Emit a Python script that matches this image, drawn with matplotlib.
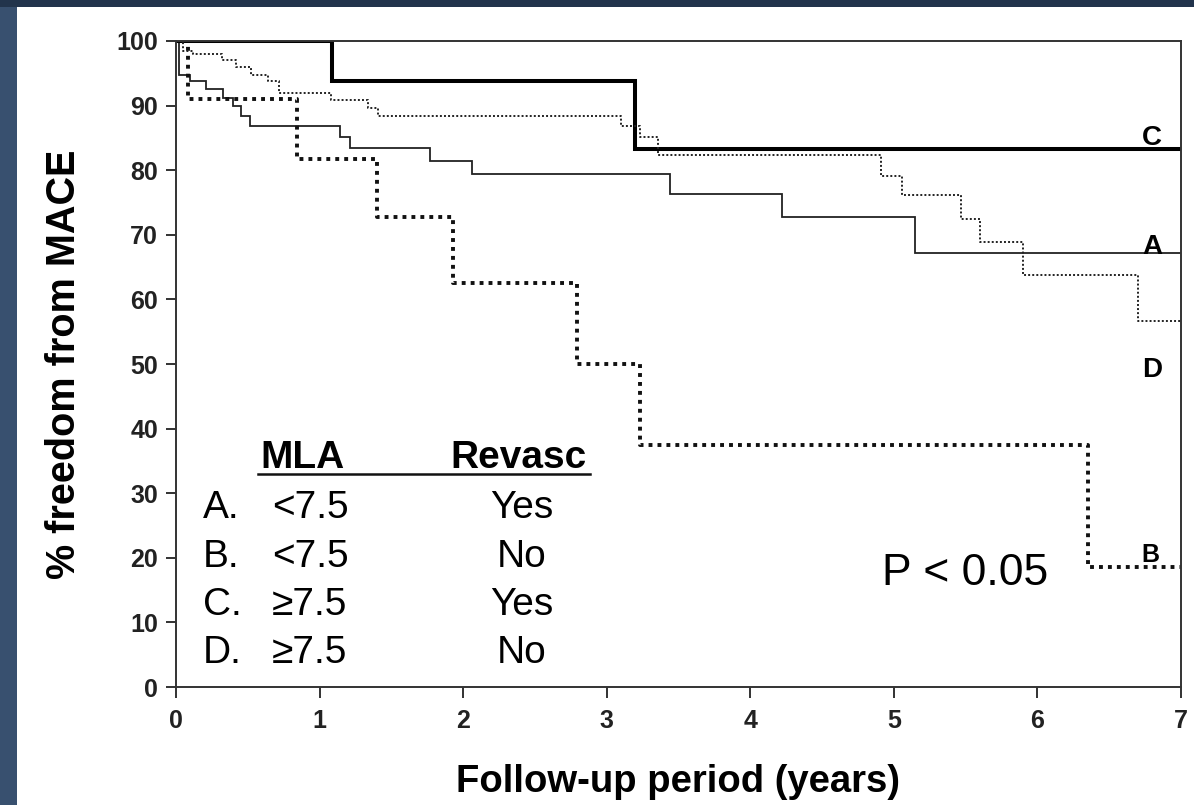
import matplotlib
matplotlib.use("Agg")
import matplotlib.pyplot as plt
from matplotlib.patches import Rectangle
from matplotlib.lines import Line2D

plt.rcParams['font.family'] = ['Liberation Sans', 'DejaVu Sans']

# ---- data (Kaplan-Meier step curves: time of change, value after change) ----
A_t = [0, 0.02, 0.10, 0.21, 0.33, 0.40, 0.45, 0.515, 1.14, 1.21, 1.77, 2.06, 3.44, 4.22, 5.15, 7.0]
A_s = [100, 94.7, 93.8, 92.5, 91.2, 89.9, 88.4, 86.8, 85.2, 83.5, 81.4, 79.4, 76.3, 72.8, 67.2, 67.2]

B_t = [0, 0.085, 0.84, 1.40, 1.93, 2.79, 3.23, 6.35, 7.0]
B_s = [100, 91.0, 81.7, 72.8, 62.5, 50.0, 37.4, 18.5, 18.5]

C_t = [0, 1.09, 3.20, 7.0]
C_s = [100, 93.8, 83.3, 83.3]

D_t = [0, 0.05, 0.12, 0.32, 0.42, 0.52, 0.64, 0.72, 1.08, 1.34, 1.41, 3.10, 3.23, 3.36,
       4.91, 5.06, 5.47, 5.60, 5.90, 6.70, 7.0]
D_s = [100, 98.5, 98.0, 97.0, 96.0, 94.8, 93.8, 91.9, 90.9, 89.6, 88.4, 86.8, 85.2, 82.3,
       79.1, 76.1, 72.4, 68.9, 63.7, 56.6, 56.6]

groups = ['A', 'B', 'C', 'D']
mla = ['<7.5', '<7.5', '\u22657.5', '\u22657.5']
revasc = ['Yes', 'No', 'Yes', 'No']
x_ticks = [0, 1, 2, 3, 4, 5, 6, 7]
y_ticks = [0, 10, 20, 30, 40, 50, 60, 70, 80, 90, 100]
x_label = 'Follow-up period (years)'
y_label = '% freedom from MACE'
p_text = 'P < 0.05'

W, H = 1194, 805
fig = plt.figure(figsize=(W / 100, H / 100), dpi=100)
fig.patch.set_facecolor('white')

# dark frame (top and left)
fig.add_artist(Rectangle((0, 0), 17 / W, 1, transform=fig.transFigure,
                         facecolor='#38506f', edgecolor='none', zorder=0))
fig.add_artist(Rectangle((0, 1 - 7 / H), 1, 7 / H, transform=fig.transFigure,
                         facecolor='#22344c', edgecolor='none', zorder=0))

ax = fig.add_axes([176 / W, 1 - 687 / H, (1181 - 176) / W, (687 - 41) / H])
ax.set_facecolor('white')

ax.step(A_t, A_s, where='post', color='#222222', lw=1.3, solid_joinstyle='miter')
ax.step(B_t, B_s, where='post', color='#111111', lw=2.8, linestyle=(0, (1, 1.3)))
ax.step(C_t, C_s, where='post', color='#000000', lw=2.9, solid_joinstyle='miter')
ax.step(D_t, D_s, where='post', color='#222222', lw=1.4, linestyle=(0, (1, 1.1)))

ax.set_xlim(0, 7)
ax.set_ylim(0, 100)
ax.set_xticks(x_ticks)
ax.set_yticks(y_ticks)
ax.set_xticklabels([str(v) for v in x_ticks], fontweight='bold', fontsize=18)
ax.set_yticklabels([str(v) for v in y_ticks], fontweight='bold', fontsize=18)
ax.tick_params(axis='y', direction='out', length=7, width=1.3, pad=6, colors='#222222')
ax.tick_params(axis='x', direction='out', length=8, width=1.3, pad=8, colors='#222222')
for s in ax.spines.values():
    s.set_linewidth(1.4)
    s.set_color('#333333')

ax.set_xlabel(x_label, fontsize=27.5, fontweight='bold', labelpad=22)
ax.set_ylabel(y_label, fontsize=28.5, fontweight='bold', labelpad=24)

# curve labels
ax.text(6.80, 85.0, 'C', fontsize=20, fontweight='bold', ha='center', va='center')
ax.text(6.80, 68.1, 'A', fontsize=20, fontweight='bold', ha='center', va='center')
ax.text(6.80, 49.1, 'D', fontsize=20, fontweight='bold', ha='center', va='center')
ax.text(6.79, 20.4, 'B', fontsize=18, fontweight='bold', ha='center', va='center')

# p-value
ax.text(4.92, 15.8, p_text, fontsize=32, ha='left', va='baseline')

# table legend
ax.text(0.585, 33.9, 'MLA', fontsize=28, fontweight='bold', ha='left', va='baseline')
ax.text(1.908, 33.9, 'Revasc', fontsize=28, fontweight='bold', ha='left', va='baseline')
ax.add_line(Line2D([0.571, 2.883], [33.0, 33.0], color='#111111', lw=1.8))
row_y = [26.2, 18.6, 11.1, 3.7]
for g, m, r, yy in zip(groups, mla, revasc, row_y):
    ax.text(0.188, yy, g + '.', fontsize=28, ha='left', va='baseline')
    ax.text(0.668, yy, m, fontsize=28, ha='left', va='baseline')
    ax.text(2.41, yy, r, fontsize=28, ha='center', va='baseline')

fig.savefig('out.png', dpi=100)
